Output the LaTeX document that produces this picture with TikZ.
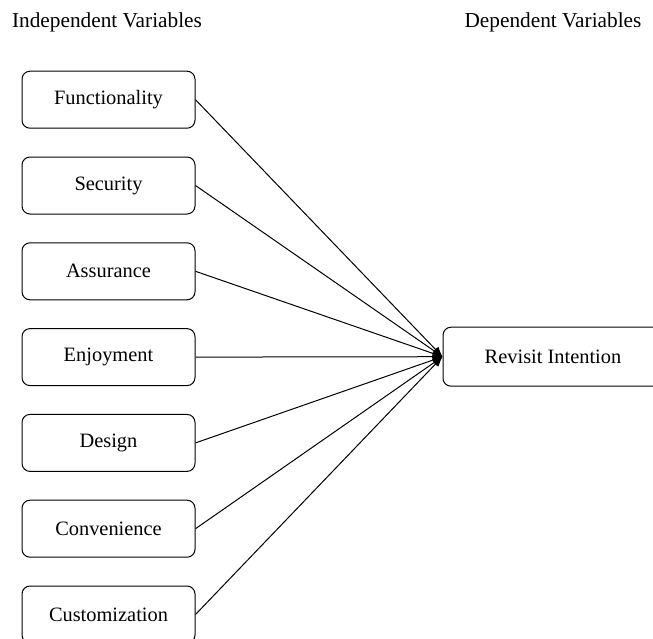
\documentclass[tikz,border=0pt]{standalone}
\usepackage{fontspec}
\setmainfont{Liberation Serif}
\usetikzlibrary{arrows.meta}

\begin{document}
\begin{tikzpicture}[x=1pt, y=-1pt,
		var/.style={draw, line width=1pt, rounded corners=8pt, minimum width=173pt, minimum height=57pt},
		head/.style={font=\fontsize{21.3}{25}\selectfont},
		link/.style={line width=1pt, -{Latex[length=10pt, width=8pt]}}]
				\fontsize{20.4}{24}\selectfont
				\useasboundingbox (0,0) rectangle (653,638);
				\clip (0,0) rectangle (653,638);
				\node[head] (indep) at (107,22) {Independent Variables};
				\node[head] (dep) at (553,22) {Dependent Variables};
				\node[var, minimum width=220pt, minimum height=59pt] (revisit) at (553,356.7) {Revisit Intention};
				
				\foreach \y/\name/\label in {
					99.7/func/Functionality,
					185.5/sec/Security,
					271.3/assur/Assurance,
					357.1/enjoy/Enjoyment,
					442.9/design/Design,
					528.7/conv/Convenience,
					614.5/custom/Customization
				}
				{
					\node[var] (\name) at (108.5,\y) {\label};
					\draw[link] (\name.east) -- (revisit.west);
				}
			\end{tikzpicture}
\end{document}
